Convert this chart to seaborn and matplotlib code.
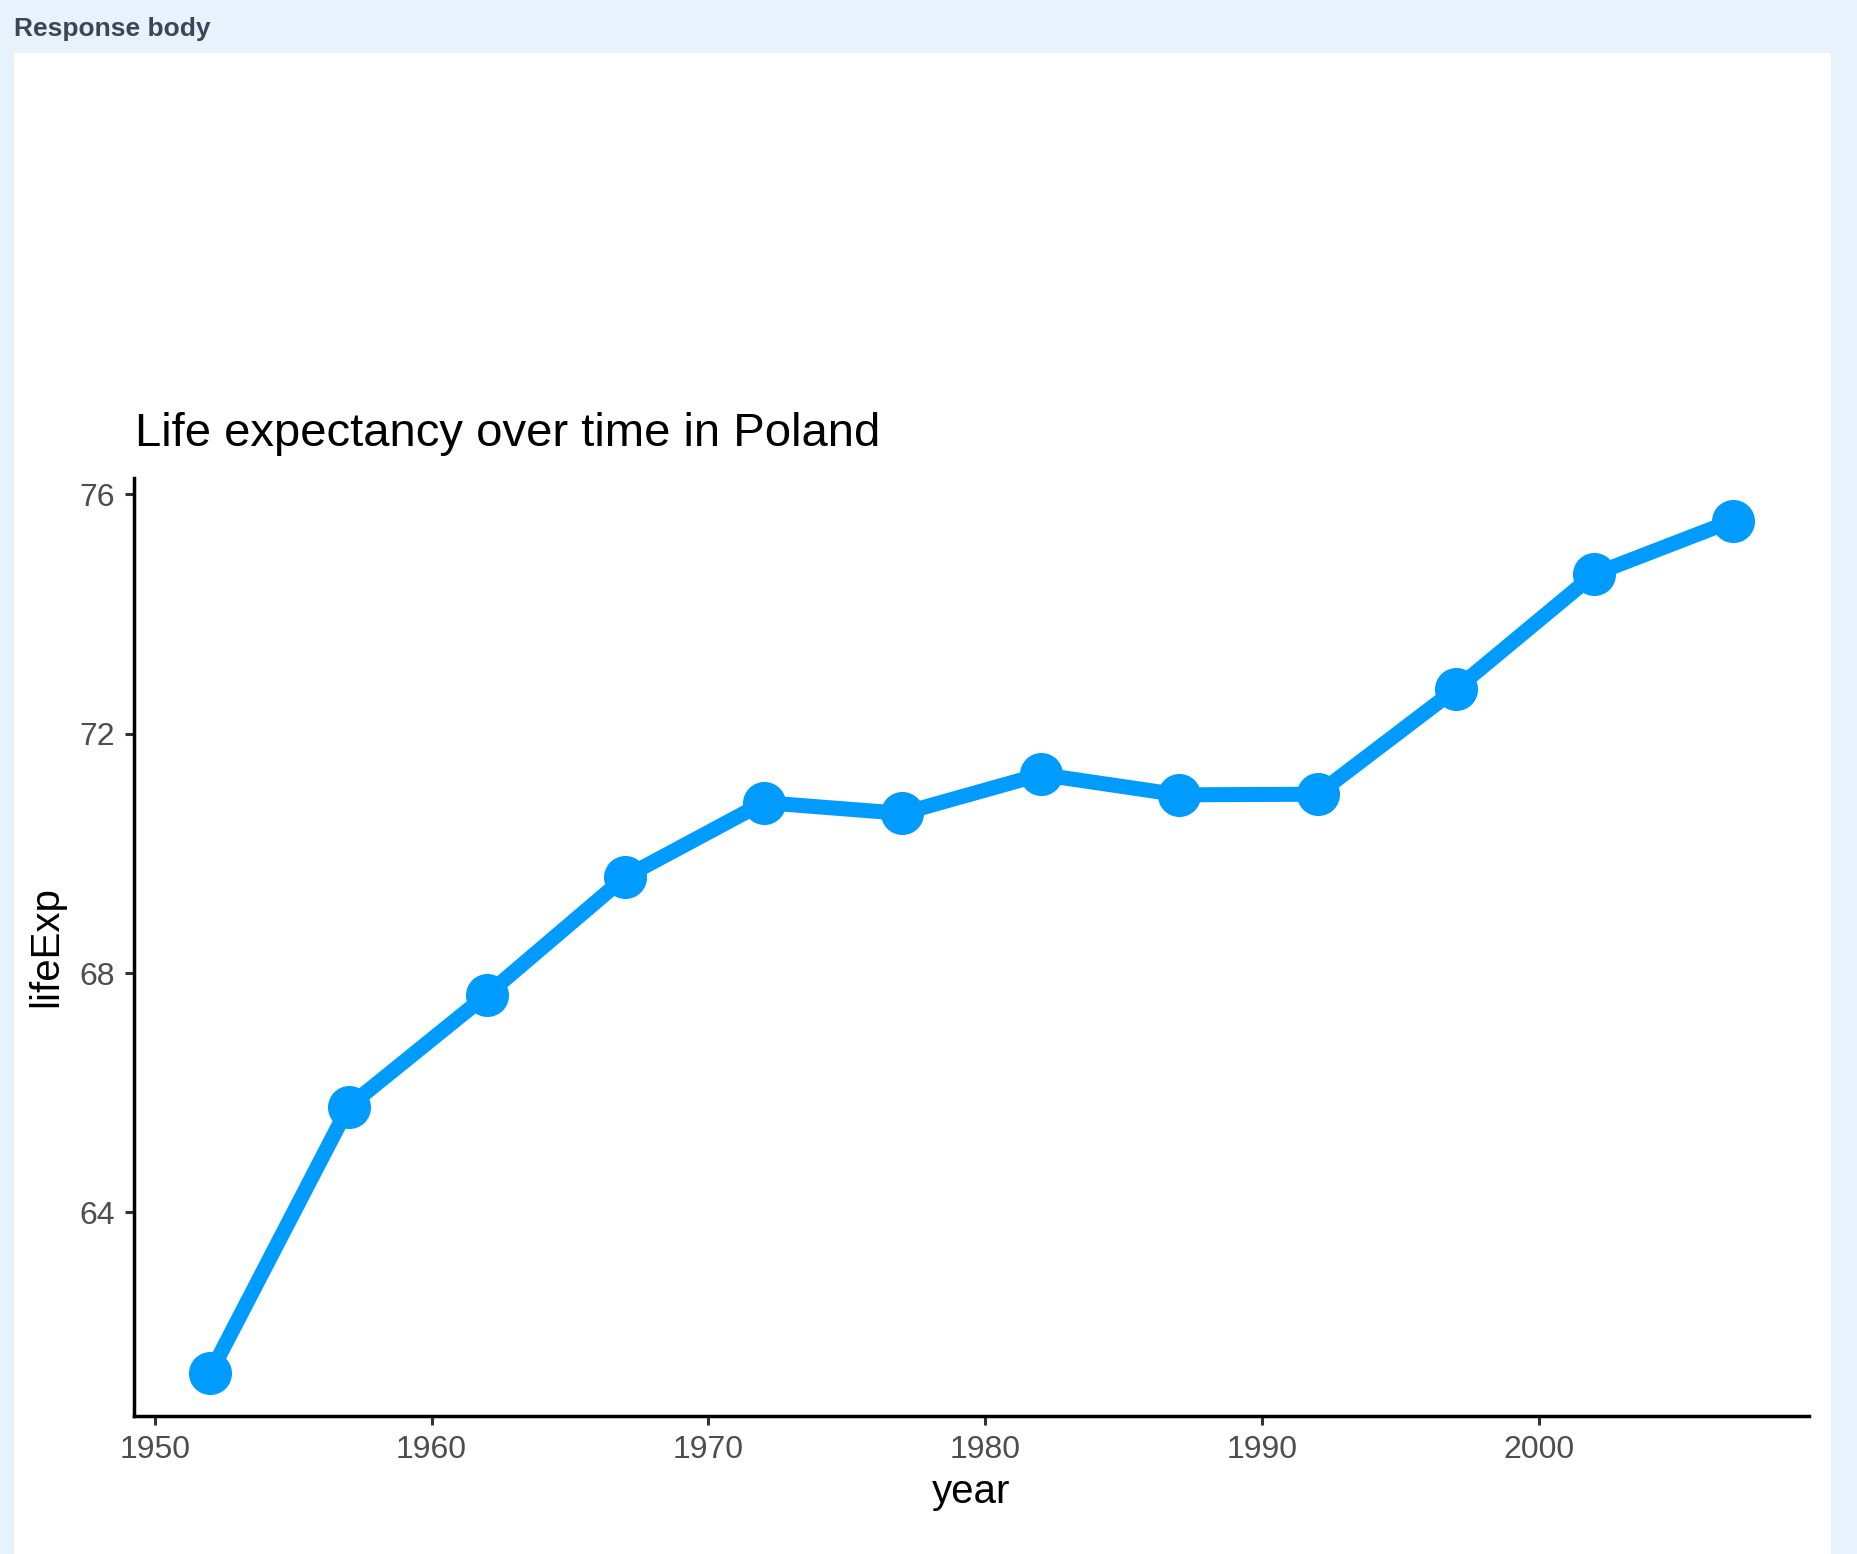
import matplotlib
matplotlib.use("Agg")
import matplotlib.pyplot as plt
import seaborn as sns
import pandas as pd
from matplotlib.patches import Rectangle

years = [1952, 1957, 1962, 1967, 1972, 1977, 1982, 1987, 1992, 1997, 2002, 2007]
life_exp = [61.31, 65.77, 67.64, 69.61, 70.85, 70.67, 71.32, 70.98, 70.99, 72.75, 74.67, 75.563]
x_ticks = [1950, 1960, 1970, 1980, 1990, 2000]
y_ticks = [64, 68, 72, 76]
title = "Life expectancy over time in Poland"
header = "Response body"

df = pd.DataFrame({"year": years, "lifeExp": life_exp})

sns.set_theme(style="ticks")
plt.rcParams["font.family"] = ["Liberation Sans", "DejaVu Sans"]

W, H = 1858, 1554
fig = plt.figure(figsize=(W / 100, H / 100), dpi=100)
fig.patch.set_facecolor("#E8F2FC")
fig.patches.append(Rectangle((14 / W, 0), (1831 - 14) / W, (H - 53) / H,
                             transform=fig.transFigure, facecolor="white",
                             edgecolor="none", zorder=-10))
fig.text(14 / W, 1 - 36 / H, header, fontsize=19, fontweight="bold",
         color="#3B4557", va="baseline", ha="left")

ax = fig.add_axes([134 / W, (H - 1416) / H, (1809 - 134) / W, (1416 - 478) / H])
ax.set_zorder(5)
ax.set_facecolor("white")
sns.lineplot(data=df, x="year", y="lifeExp", ax=ax, color="#009BFF",
             linewidth=10.8, marker="o", markersize=31, markeredgewidth=0)

span_x = max(years) - min(years)
span_y = max(life_exp) - min(life_exp)
ax.set_xlim(min(years) - 0.05 * span_x, max(years) + 0.05 * span_x)
ax.set_ylim(min(life_exp) - 0.05 * span_y, max(life_exp) + 0.05 * span_y)
ax.set_xticks(x_ticks)
ax.set_yticks(y_ticks)

for s in ["top", "right"]:
    ax.spines[s].set_visible(False)
for s in ["left", "bottom"]:
    ax.spines[s].set_linewidth(2.5)
    ax.spines[s].set_color("black")
ax.tick_params(axis="both", length=6.5, width=2.2, color="#333333",
               labelsize=23, labelcolor="#4D4D4D", pad=7)
ax.set_xlabel("year", fontsize=29, color="black", labelpad=6)
ax.set_ylabel("lifeExp", fontsize=29, color="black", labelpad=10)

fig.text(135 / W, 1 - 446 / H, title, fontsize=34, color="black",
         va="baseline", ha="left", zorder=10)

fig.savefig("out.png", dpi=100, facecolor=fig.get_facecolor())
